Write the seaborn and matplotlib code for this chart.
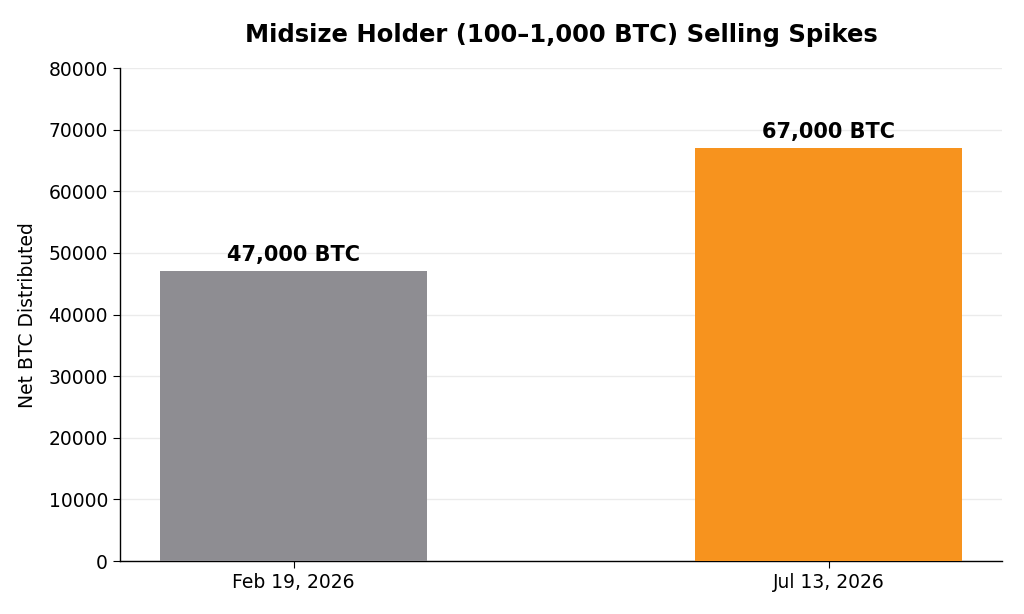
import matplotlib
matplotlib.use("Agg")
import matplotlib.pyplot as plt
import seaborn as sns
import pandas as pd

# values
dates = ["Feb 19, 2026", "Jul 13, 2026"]
net_btc = [47000, 67000]
bar_colors = ["#8e8d92", "#f7931e"]
labels = ["47,000 BTC", "67,000 BTC"]

df = pd.DataFrame({"date": dates, "btc": net_btc})

sns.set_style("white")
plt.rcParams["font.family"] = ["DejaVu Sans"]
plt.rcParams["text.color"] = "black"
plt.rcParams["axes.labelcolor"] = "black"
plt.rcParams["xtick.color"] = "black"
plt.rcParams["ytick.color"] = "black"

fig = plt.figure(figsize=(10.24, 6.14), dpi=100)
ax = fig.add_axes([0.117, 0.0863, 0.862, 0.8027])

sns.barplot(data=df, x="date", y="btc", hue="date", palette=bar_colors,
            width=0.5, legend=False, ax=ax, saturation=1, zorder=3,
            linewidth=0, edgecolor="none")

# value labels above the bars
for i, (v, lab) in enumerate(zip(net_btc, labels)):
    ax.text(i, v + 1000, lab, ha="center", va="bottom",
            fontsize=15, fontweight="bold", zorder=4)

ax.set_xlim(-0.325, 1.325)
ax.set_ylim(0, 80000)
ax.set_yticks(range(0, 80001, 10000))
ax.yaxis.grid(True, color="#ebebeb", linewidth=1, zorder=0)
ax.set_axisbelow(True)
ax.set_xlabel("")
ax.set_ylabel("Net BTC Distributed", fontsize=13.5, labelpad=8)
ax.tick_params(axis="both", labelsize=13.5, length=5, color="black", left=True, bottom=True)
for s in ["top", "right"]:
    ax.spines[s].set_visible(False)
for s in ["left", "bottom"]:
    ax.spines[s].set_color("black")
    ax.spines[s].set_linewidth(1)

ax.set_title("Midsize Holder (100\u20131,000 BTC) Selling Spikes",
             fontsize=17.5, fontweight="bold", pad=19)

fig.savefig("out.png", dpi=100)
